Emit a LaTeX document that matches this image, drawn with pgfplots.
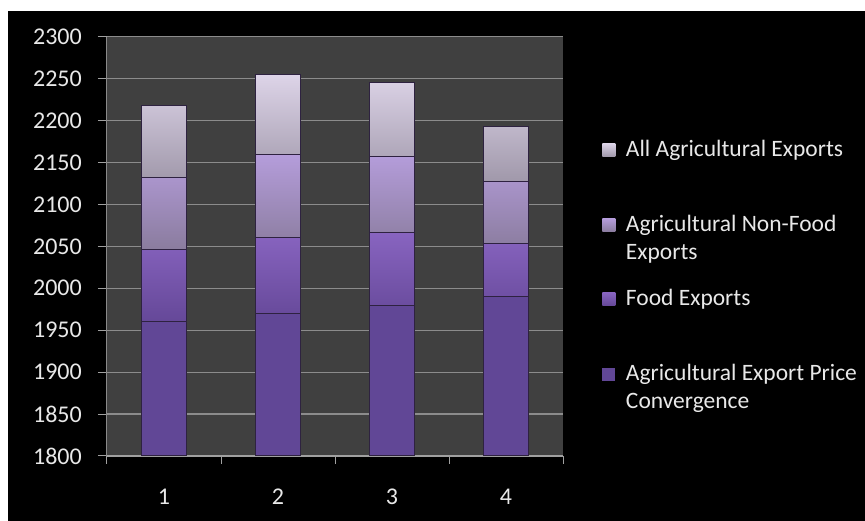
\documentclass[border=0pt]{standalone}
\usepackage{pgfplots}
\pgfplotsset{compat=1.18}
\usepackage{fontspec}
\setmainfont{Carlito}
\definecolor{plotbg}{HTML}{404040}
\definecolor{gridc}{HTML}{8C8C8C}
\definecolor{axisx}{HTML}{A0A0A0}
\definecolor{axisy}{HTML}{8A8A8A}
\definecolor{tickc}{HTML}{E8E8E8}
\definecolor{sepc}{HTML}{2E2240}
\definecolor{cA}{HTML}{614796}
\definecolor{cBt}{HTML}{8864C0}
\definecolor{cBb}{HTML}{654898}
\definecolor{cCt}{HTML}{B59DDB}
\definecolor{cCb}{HTML}{8A7C9E}
\definecolor{cDt}{HTML}{DDD4E8}
\definecolor{cDb}{HTML}{A098AA}
\begin{document}
\begin{tikzpicture}
\useasboundingbox (0,0) rectangle (865pt,521pt);
\fill[white] (0,0) rectangle (865pt,521pt);
\fill[black] (8pt,0) rectangle (865pt,510pt);
\begin{axis}[
  at={(107pt,65pt)}, anchor=south west,
  scale only axis, width=456pt, height=419.3pt,
  ybar stacked, bar width=45pt,
  xmin=0.5, xmax=4.5, ymin=1800, ymax=2300,
  xtick={1,2,3,4}, minor xtick={0.5,1.5,2.5,3.5,4.5},
  ytick={1800,1850,...,2300},
  axis lines*=left,
  axis background/.style={fill=plotbg},
  ymajorgrids, grid style={draw=gridc, line width=1.2pt},
  x axis line style={draw=axisx, line width=1.5pt},
  y axis line style={draw=axisy, line width=1pt},
  tick align=outside, major tick length=9pt, minor tick length=8pt,
  tick style={draw=axisx, line width=1pt},
  major x tick style={draw=none},
  /pgf/number format/assume math mode=true,
  /pgf/number format/1000 sep={},
  ticklabel style={font=\fontsize{24}{28}\selectfont, text=tickc},
  yticklabel style={anchor=east, inner sep=0pt, xshift=-16pt},
  xticklabel style={anchor=north, inner sep=0pt, yshift=-24pt},
  reverse legend,
  legend style={at={(1.0855,0.7632)}, anchor=north west, draw=none, fill=none,
    inner sep=0pt, outer sep=0pt, text=tickc, font=\fontsize{23.5}{28}\selectfont,
    row sep=16pt, column sep=8pt,
    cells={anchor=base west, inner sep=0pt}},
  legend image code/.code={\path (0pt,-37pt) coordinate (lgA) (13pt,20pt) coordinate (lgB);
    \path[#1, draw=none] (0pt,0pt) rectangle (13pt,13pt);},
]
\addplot[fill=cA, draw=sepc, line width=1pt] coordinates {(1,1960) (2,1970) (3,1980) (4,1990)};
\addlegendentry{\begin{tabular}[t]{@{}l@{}}Agricultural Export Price\\Convergence\end{tabular}}
\addplot[top color=cBt, bottom color=cBb, draw=sepc, line width=1pt] coordinates {(1,86) (2,90) (3,86) (4,63)};
\addlegendentry{Food Exports}
\addplot[top color=cCt, bottom color=cCb, draw=sepc, line width=1pt] coordinates {(1,86) (2,100) (3,91) (4,74)};
\addlegendentry{\begin{tabular}[t]{@{}l@{}}Agricultural Non-Food\\Exports\end{tabular}}
\addplot[top color=cDt, bottom color=cDb, draw=sepc, line width=1pt] coordinates {(1,86) (2,95) (3,88) (4,66)};
\addlegendentry{All Agricultural Exports}
\end{axis}
\end{tikzpicture}
\end{document}
